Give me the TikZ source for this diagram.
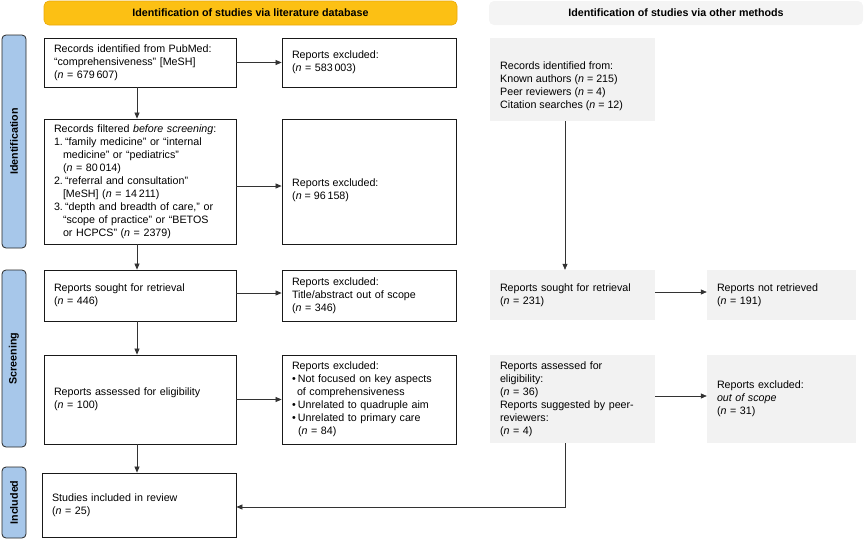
\documentclass[tikz,border=0pt]{standalone}
\usepackage{fontspec}
\setmainfont{Liberation Sans}
\usetikzlibrary{arrows.meta,calc}
\definecolor{hdryellow}{HTML}{FCC014}
\definecolor{hdryellowline}{HTML}{E9A90A}
\definecolor{hdrgray}{HTML}{F4F4F4}
\definecolor{boxgray}{HTML}{F2F2F2}
\definecolor{sideblue}{HTML}{A7C7EA}
\newcommand{\nn}{\textit{n}}
\begin{document}
\begin{tikzpicture}[x=1pt,y=-1pt,
  every node/.style={font=\fontsize{10.7}{13}\selectfont},
  wbox/.style={draw=black!90, line width=0.8pt, fill=white, inner xsep=10pt, inner ysep=0pt, align=left},
  gbox/.style={fill=boxgray, inner xsep=10pt, inner ysep=0pt, align=left},
  txt/.style={inner sep=0pt, align=left, anchor=west},
  arr/.style={-{Triangle[length=6pt,width=5pt]}, line width=0.7pt, draw=black!80},
  side/.style={draw=black!85, line width=0.8pt, fill=sideblue, rounded corners=4pt, rotate=90,
    font=\bfseries\fontsize{10.7}{13}\selectfont, inner sep=0pt, minimum height=24pt},
  hdr/.style={rounded corners=5pt, minimum height=24pt, inner sep=0pt, font=\bfseries\fontsize{10.7}{13}\selectfont}
]
\useasboundingbox (0,0) rectangle (864,541);

% headers
\node[hdr, fill=hdryellow, draw=hdryellowline, line width=0.6pt, minimum width=413pt] (H1) at (250.5,13) {Identification of studies via literature database};
\node[hdr, fill=hdrgray, minimum width=374pt] (H2) at (676,13) {Identification of studies via other methods};

% side bars
\node[side, minimum width=213pt] (S1) at (14,141.5) {Identification};
\node[side, minimum width=177pt] (S2) at (14,358.5) {Screening};
\node[side, minimum width=71pt] (S3) at (14,502.5) {Included};

% left column
\node[wbox, text width=172pt, minimum height=49pt] (A) at (140,62.5)
  {Records identified from PubMed:\\“comprehensiveness” [MeSH]\\(\nn{} = 679\,607)};
\node[wbox, text width=154pt, minimum height=49pt] (B) at (369,62.5)
  {Reports excluded:\\(\nn{} = 583\,003)};
\node[wbox, text width=172pt, minimum height=125pt] (C) at (140,181.5)
  {Records filtered \textit{before screening}:\\
   \makebox[11pt][l]{1.}“family medicine” or “internal\\
   \hspace*{9pt}medicine” or “pediatrics”\\
   \hspace*{9pt}(\nn{} = 80\,014)\\
   \makebox[11pt][l]{2.}“referral and consultation”\\
   \hspace*{9pt}[MeSH] (\nn{} = 14\,211)\\
   \makebox[11pt][l]{3.}“depth and breadth of care,” or\\
   \hspace*{9pt}“scope of practice” or “BETOS\\
   \hspace*{9pt}or HCPCS” (\nn{} = 2379)};
\node[wbox, text width=154pt, minimum height=125pt] (D) at (369,181.5) {};
\node[txt] (Dt) at (292,190) {Reports excluded:\\(\nn{} = 96\,158)};
\node[wbox, text width=172pt, minimum height=51pt] (E) at (140,295.5)
  {Reports sought for retrieval\\(\nn{} = 446)};
\node[wbox, text width=154pt, minimum height=51pt] (F) at (369,295.5)
  {Reports excluded:\\Title/abstract out of scope\\(\nn{} = 346)};
\node[wbox, text width=172pt, minimum height=89pt] (G) at (140,399.5)
  {Reports assessed for eligibility\\(\nn{} = 100)};
\node[wbox, text width=154pt, minimum height=89pt] (H) at (369,399.5)
  {Reports excluded:\\
   \makebox[6pt][l]{•}Not focused on key aspects\\
   \hspace*{5pt}of comprehensiveness\\
   \makebox[6pt][l]{•}Unrelated to quadruple aim\\
   \makebox[6pt][l]{•}Unrelated to primary care\\
   \hspace*{6pt}(\nn{} = 84)};
\node[wbox, text width=174pt, minimum height=64pt] (I) at (139,505)
  {Studies included in review\\(\nn{} = 25)};

% right column
\node[gbox, text width=145pt, minimum height=83pt] (J) at (572.5,79.5) {};
\node[txt] (Jt) at (500,86) {Records identified from:\\Known authors (\nn{} = 215)\\Peer reviewers (\nn{} = 4)\\Citation searches (\nn{} = 12)};
\node[gbox, text width=145pt, minimum height=50pt] (K) at (572.5,295)
  {Reports sought for retrieval\\(\nn{} = 231)};
\node[gbox, text width=129pt, minimum height=50pt] (L) at (781.5,295)
  {Reports not retrieved\\(\nn{} = 191)};
\node[gbox, text width=145pt, minimum height=88pt] (M) at (572.5,399)
  {Reports assessed for\\eligibility:\\(\nn{} = 36)\\Reports suggested by peer-\\reviewers:\\(\nn{} = 4)};
\node[gbox, text width=129pt, minimum height=88pt] (N) at (781.5,399)
  {Reports excluded:\\\textit{out of scope}\\(\nn{} = 31)};

% connectors
\draw[arr] (A.east) -- (B.west);
\draw[arr] ($(C.east)+(0,4.5)$) -- ($(D.west)+(0,4.5)$);
\draw[arr] ($(E.east)+(0,-2.5)$) -- ($(F.west)+(0,-2.5)$);
\draw[arr] (G.east) -- (H.west);
\draw[arr] ($(A.south)+(-3,0)$) -- ($(C.north)+(-3,0)$);
\draw[arr] ($(C.south)+(-3,0)$) -- ($(E.north)+(-3,0)$);
\draw[arr] ($(E.south)+(-3,0)$) -- ($(G.north)+(-3,0)$);
\draw[arr] ($(G.south)+(-3,0)$) -- ($(I.north)+(-2,0)$);
\draw[arr] ($(J.south)+(-7.5,0)$) -- ($(K.north)+(-7.5,0)$);
\draw[arr] ($(K.east)+(0,-3)$) -- ($(L.west)+(0,-3)$);
\draw[arr] ($(M.east)+(0,-3)$) -- ($(N.west)+(0,-3)$);
\coordinate (MI) at ($(M.south)+(-7.5,0)$);
\draw[arr] (MI) |- ($(I.east)+(0,2)$);
\end{tikzpicture}
\end{document}
